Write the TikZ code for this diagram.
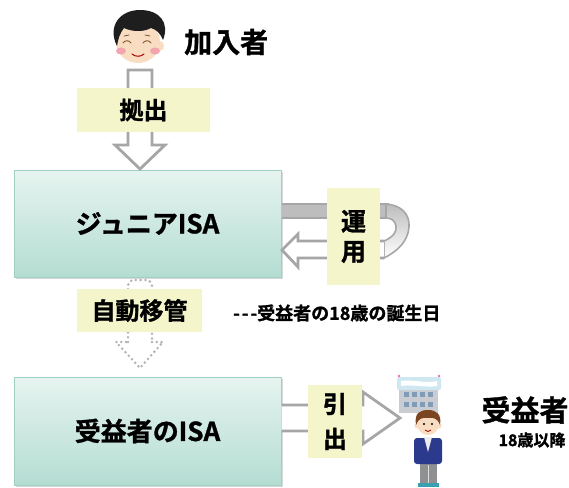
\documentclass[tikz,border=0pt]{standalone}
\usepackage{fontspec}
\setmainfont{Noto Sans CJK JP}[BoldFont={Noto Sans CJK JP Bold}, BoldFeatures={FakeBold=1.2}]
\usetikzlibrary{shadows}

\definecolor{boxtop}{HTML}{E6F4F0}
\definecolor{boxbot}{HTML}{B4DDD2}
\definecolor{boxline}{HTML}{A0D0C3}
\definecolor{tag}{HTML}{F4F5CB}
\definecolor{arrowgray}{HTML}{A6A6A6}
\definecolor{bandgray}{HTML}{BDBDBD}
\definecolor{skin}{HTML}{F8DDC2}
\definecolor{hairblack}{HTML}{1E1E1E}
\definecolor{hairbrown}{HTML}{7A4520}
\definecolor{cheek}{HTML}{F2A5AE}
\definecolor{navy}{HTML}{2B3A8C}
\definecolor{trousers}{HTML}{8E9092}
\definecolor{shoe}{HTML}{3A9FB0}
\definecolor{wall}{HTML}{C9CDD2}
\definecolor{window}{HTML}{7F9CB8}
\definecolor{sign}{HTML}{CFE7F0}

\begin{document}
\begin{tikzpicture}[x=1pt,y=-1pt,
  accbox/.style={draw=boxline, line width=1pt, top color=boxtop, bottom color=boxbot,
    minimum width=267pt, inner sep=0pt,
    font=\bfseries\fontsize{26}{26}\selectfont,
    drop shadow={shadow xshift=1.5pt, shadow yshift=-2pt, opacity=0.3}},
  tagbox/.style={fill=tag, inner sep=0pt, font=\bfseries\fontsize{24}{24}\selectfont},
  hollow/.style={draw=arrowgray, line width=2.8pt, fill=white, line join=miter},
  dotarrow/.style={draw=arrowgray!85, line width=2.8pt, line cap=round,
    dash pattern=on 0pt off 4.8pt},
  label/.style={inner sep=0pt, font=\bfseries\fontsize{#1}{#1}\selectfont}
]
\useasboundingbox (0,0) rectangle (569,487);

% ---------- contributor (head) ----------
\fill[skin] (138,42) ellipse [x radius=22, y radius=21];
\fill[skin] (160,46) ellipse [x radius=4, y radius=5];
\fill[hairblack] (117,46) .. controls (107,26) and (120,10) .. (140,10)
  .. controls (159,10) and (170,22) .. (163,40)
  .. controls (160,33) and (157,30) .. (151,28)
  .. controls (142,33) and (130,31) .. (124,28)
  .. controls (120,33) and (118,39) .. (117,46) -- cycle;
\fill[cheek] (121,51) ellipse [x radius=5, y radius=3.5];
\fill[cheek] (155,51) ellipse [x radius=5, y radius=3.5];
\draw[line width=0.9pt, brown!70!black, line cap=round]
  (123,43) .. controls (125,40) and (129,40) .. (131,43)
  (143,43) .. controls (145,40) and (149,40) .. (151,43);
\draw[line width=0.7pt, brown!60!black, line cap=round]
  (124,36) -- (129,35) (145,35) -- (150,36);
\draw[line width=1pt, red!70!black, line cap=round]
  (132,54) .. controls (135,57) and (141,57) .. (144,54);

\node[label=28, anchor=west] (joiner) at (184,42) {加入者};

% ---------- accounts ----------
\node[accbox, minimum height=107pt] (junior) at (147.5,223.5) {ジュニアISA};
\node[accbox, minimum height=108pt] (benef) at (147.5,431) {受益者のISA};

% contribution arrow
\path[hollow] (128,70) -- (152,70) -- (152,145) -- (165,145) -- (140,169)
  -- (115,145) -- (128,145) -- cycle;

% management loop: back band, curl and returning front arrow
\path[fill=bandgray, draw=arrowgray, line width=1.4pt]
  (junior.east |- 0,204) -- (388,204) -- (388,218) -- (junior.east |- 0,218);
\path[draw=arrowgray, line width=1.6pt, top color=bandgray, bottom color=white]
  (386,204) .. controls (401,205) and (410,214) .. (409,227)
  .. controls (408,241) and (398,251) .. (384,258)
  -- (384,241) .. controls (393,237) and (397,232) .. (396,226)
  .. controls (395,221) and (392,218) .. (386,218) -- cycle;
\path[fill=white] (384,241) -- (298,241) -- (298,234) -- (282,250) -- (298,267)
  -- (298,258) -- (384,258) -- cycle;
\draw[arrowgray, line width=2.8pt, line join=miter]
  (384,241) -- (298,241) -- (298,234) -- (282,250) -- (298,267)
  -- (298,258) -- (384,258);

% automatic transfer (dotted outline arrow)
\path[dotarrow, rounded corners=6pt] (128,342) -- (128,280) -- (152,280)
  -- (152,342);
\path[dotarrow] (152,342) -- (163,342) -- (140,368) -- (116,342) -- (128,342);

% withdrawal arrow
\path[fill=white] (benef.east |- 0,405) -- (363,405) -- (363,392) -- (400,418)
  -- (363,444) -- (363,431) -- (benef.east |- 0,431) -- cycle;
\draw[arrowgray, line width=2.8pt, line join=miter]
  (benef.east |- 0,405) -- (363,405) -- (363,392) -- (400,418)
  -- (363,444) -- (363,431) -- (benef.east |- 0,431);

% ---------- tags ----------
\node[tagbox, minimum width=133pt, minimum height=44pt] (kyo) at (143.5,110) {拠出};
\node[tagbox, minimum width=53pt, minimum height=97pt, align=center,
  font=\bfseries\fontsize{25}{30}\selectfont] (unyo) at (353.5,236.5) {運\\用};
\node[tagbox, minimum width=125pt, minimum height=43pt] (iko) at (139.5,310.5) {自動移管};
\node[tagbox, minimum width=54pt, minimum height=73pt, align=center,
  font=\bfseries\fontsize{24}{35}\selectfont] (hiki) at (335,421.5) {引\\出};

\node[label=18, anchor=west] (note) at (233,313)
  {{-}\kern2pt{-}\kern2pt{-}受益者の18歳の誕生日};

% ---------- beneficiary (school and student) ----------
\fill[wall] (399,388) rectangle (438,413);
\foreach \wx in {404,412,420,428} {
  \fill[window] (\wx,392) rectangle ++(5,5);
  \fill[window] (\wx,402) rectangle ++(5,5);
}
\fill[sign, rounded corners=2pt] (397,377) rectangle (441,390);
\fill[white] (401,381) .. controls (412,379) and (426,384) .. (437,381)
  -- (437,386) .. controls (426,388) and (412,384) .. (401,386) -- cycle;
\fill[magenta!60] (399,376) circle [radius=1.3];
\fill[magenta!60] (439,376) circle [radius=1.3];

\fill[trousers] (420,461) rectangle (437,484);
\draw[white!70!trousers, line width=0.6pt] (428.5,465) -- (428.5,484);
\fill[shoe] (418,483) rectangle (439,487);
\fill[navy, rounded corners=3pt] (414,438) rectangle (442,464);
\fill[white!85!gray] (424,437) -- (432,437) -- (428,452) -- cycle;
\fill[skin] (428,424) circle [radius=11];
\fill[skin] (417,426) circle [radius=2.5];
\fill[skin] (439,426) circle [radius=2.5];
\fill[hairbrown] (416,425) .. controls (414,413) and (420,410) .. (428,410)
  .. controls (436,410) and (442,414) .. (440,425)
  .. controls (438,419) and (434,417) .. (428,418)
  .. controls (422,417) and (418,419) .. (416,425) -- cycle;
\fill[black] (424,424) circle [radius=1.1];
\fill[black] (432,424) circle [radius=1.1];
\draw[red!60!black, line width=0.7pt] (425,430) .. controls (427,432) and (429,432) .. (431,430);

\node[label=29] (benefname) at (525,410) {受益者};
\node[label=16] (age) at (532,440) {18歳以降};
\end{tikzpicture}
\end{document}
